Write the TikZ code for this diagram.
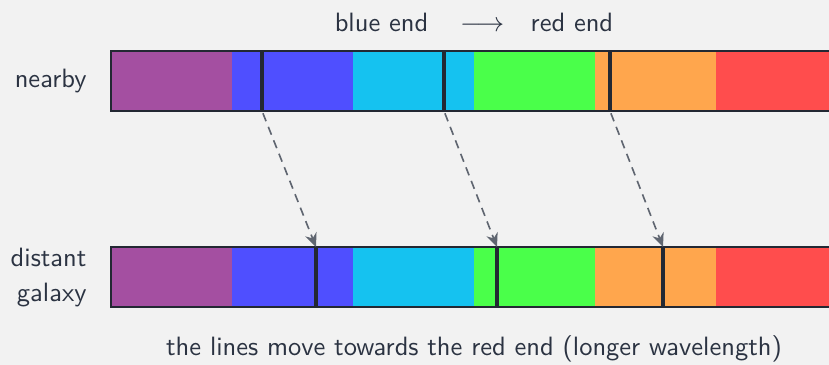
\documentclass[tikz,border=0pt]{standalone}
\usetikzlibrary{arrows.meta}
\definecolor{paper}{HTML}{F2F2F2}
\definecolor{ink}{HTML}{2B3342}
\definecolor{frameink}{HTML}{232833}
\definecolor{shiftgray}{HTML}{5F6570}
\definecolor{vPurple}{HTML}{A44FA1}
\definecolor{vBlue}{HTML}{4F4FFF}
\definecolor{vCyan}{HTML}{15C2F0}
\definecolor{vGreen}{HTML}{4AFF4A}
\definecolor{vOrange}{HTML}{FFA64D}
\definecolor{vRed}{HTML}{FF4D4D}
\tikzset{
  label text/.style={inner sep=0pt, text=ink},
  bar frame/.style={draw=frameink, line width=0.6pt},
  specline/.style={draw=frameink, line width=1.4pt},
  shift arrow/.style={draw=shiftgray, line width=0.65pt, dash pattern=on 3.4pt off 2.4pt,
    -{Stealth[length=5.5pt,width=4.8pt]}, shorten <=1pt},
}
\begin{document}
\begin{tikzpicture}[x=0.4pt, y=-0.4pt, font=\sffamily\fontsize{10.6}{12.7}\selectfont]
\useasboundingbox (0,0) rectangle (829,365);
\clip (0,0) rectangle (829,365);
\fill[paper] (0,0) rectangle (829,365);

% colour bands of both spectra
\foreach \c [count=\i from 0] in {vPurple,vBlue,vCyan,vGreen,vOrange,vRed} {
  \fill[\c] ({111+121*\i},51) rectangle ({232+121*\i},111);
  \fill[\c] ({111+121*\i},247) rectangle ({232+121*\i},307);
}
\draw[bar frame] (111,51) rectangle (838,111);
\draw[bar frame] (111,247) rectangle (838,307);

% absorption lines, nearby spectrum
\coordinate (n1t) at (262,51);  \coordinate (n1b) at (262,111);
\coordinate (n2t) at (444,51);  \coordinate (n2b) at (444,111);
\coordinate (n3t) at (610,51);  \coordinate (n3b) at (610,111);
% absorption lines, distant spectrum
\coordinate (d1t) at (316,247); \coordinate (d1b) at (316,307);
\coordinate (d2t) at (497,247); \coordinate (d2b) at (497,307);
\coordinate (d3t) at (663,247); \coordinate (d3b) at (663,307);

\foreach \p in {n1,n2,n3,d1,d2,d3} {
  \draw[specline] (\p t) -- (\p b);
}

% redshift of each line
\draw[shift arrow] (n1b) -- (d1t);
\draw[shift arrow] (n2b) -- (d2t);
\draw[shift arrow] (n3b) -- (d3t);

% labels
\node[label text, anchor=base east] (nearby) at (87,88) {nearby};
\node[label text, anchor=base east] (distant) at (87,267) {distant};
\node[label text, anchor=base east] (galaxy) at (87,302) {galaxy};
\node[label text, anchor=base] (direction) at (474,32)
  {blue end\hspace{1.2em}$\longrightarrow$\hspace{1.0em}red end};
\node[label text, anchor=base] (caption) at (474,356)
  {the lines move towards the red end (longer wavelength)};
\end{tikzpicture}
\end{document}
